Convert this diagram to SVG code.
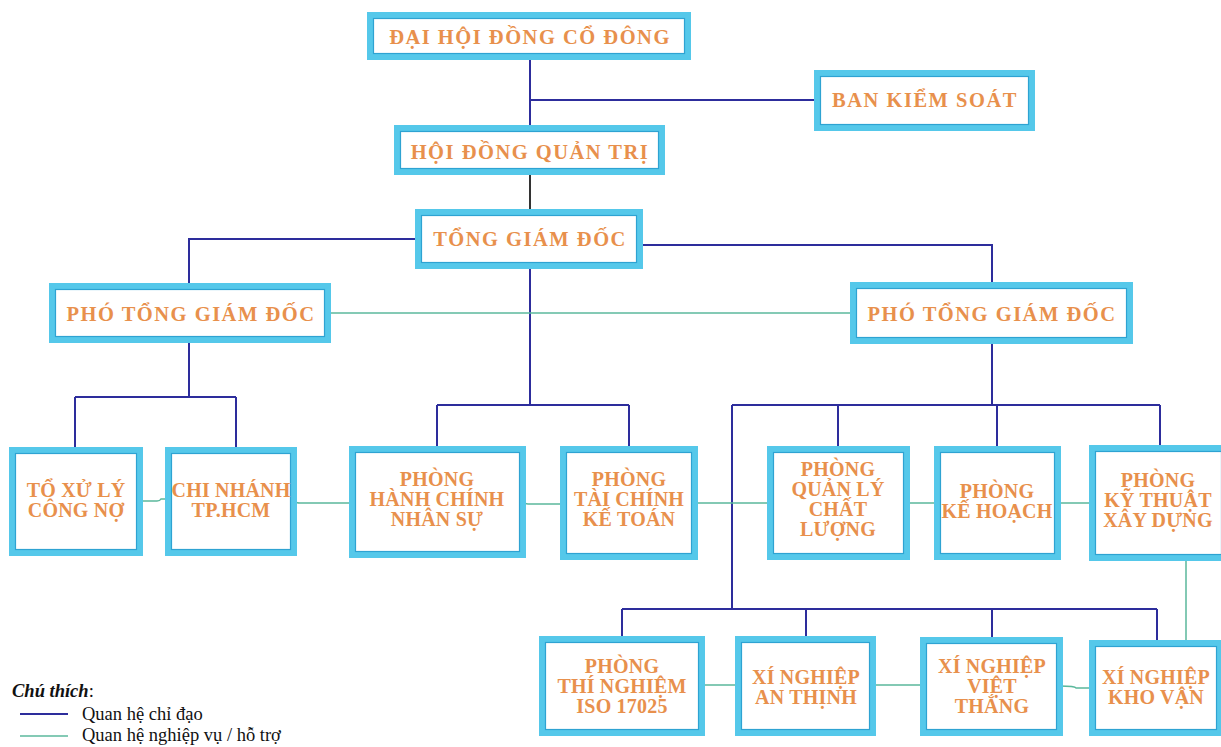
<svg xmlns="http://www.w3.org/2000/svg" width="1221" height="747" viewBox="0 0 1221 747">
<style>
.bo{fill:#fff;stroke:#55c8ea;stroke-width:6}
.bi{fill:none;stroke:#2ea3d2;stroke-width:1.2}
.t1{font-family:"Liberation Serif",serif;font-weight:bold;font-size:20.5px;letter-spacing:1.5px;fill:#e8904c;text-anchor:middle}
.t2{font-family:"Liberation Serif",serif;font-weight:bold;font-size:20px;letter-spacing:0.2px;fill:#e8904c;text-anchor:middle}
.b{fill:none;stroke:#2d2d9c;stroke-width:2}
.k{fill:none;stroke:#333;stroke-width:2}
.g{fill:none;stroke:#5bb89c;stroke-width:1.5}
.lg{font-family:"Liberation Serif",serif;font-size:18.5px;fill:#111}
</style>
<rect width="1221" height="747" fill="#fff"/>
<g id="connectors">
<path class="b" d="M530 57V128M530 100H817"/>
<path class="k" d="M530 172V212"/>
<path class="b" d="M418 239H189V286M640 245H992V285"/>
<path class="b" d="M530 266V405M437 405H629M437 405V449M629 405V449"/>
<path class="b" d="M189 340V397M75 397H236M75 397V450M236 397V450"/>
<path class="b" d="M992 341V405M732 405H1160M838 405V449M997 405V449M1160 405V449M732 405V609M622 609H1157M622 609V639M806 609V639M992 609V640M1157 609V643"/>
<path class="g" d="M328 313H853"/>
<path class="g" d="M140 501H157Q160 501 161 499H168M294 500Q296 503 300 503H352M523 502Q525 504 528 504H563M695 503H770M907 503H937M1058 503H1092"/>
<path class="g" d="M702 685H738M873 685H923M1060 686Q1075 686 1076 688H1092M1186 557V643"/>
</g>
<g id="n-dhdcd"><rect class="bo" x="370" y="15" width="318" height="42"/><rect class="bi" x="373.5" y="18.5" width="311" height="35"/><text class="t1" x="530" y="44">ĐẠI HỘI ĐỒNG CỔ ĐÔNG</text></g>
<g id="n-bks"><rect class="bo" x="817" y="73" width="215" height="55"/><rect class="bi" x="820.5" y="76.5" width="208" height="48"/><text class="t1" x="925" y="107">BAN KIỂM SOÁT</text></g>
<g id="n-hdqt"><rect class="bo" x="397" y="128" width="265" height="44"/><rect class="bi" x="400.5" y="131.5" width="258" height="37"/><text class="t1" x="530" y="159">HỘI ĐỒNG QUẢN TRỊ</text></g>
<g id="n-tgd"><rect class="bo" x="418" y="212" width="222" height="54"/><rect class="bi" x="421.5" y="215.5" width="215" height="47"/><text class="t1" x="530" y="246">TỔNG GIÁM ĐỐC</text></g>
<g id="n-ptgd1"><rect class="bo" x="52" y="286" width="276" height="54"/><rect class="bi" x="55.5" y="289.5" width="269" height="47"/><text class="t1" x="191" y="321">PHÓ TỔNG GIÁM ĐỐC</text></g>
<g id="n-ptgd2"><rect class="bo" x="853" y="285" width="277" height="56"/><rect class="bi" x="856.5" y="288.5" width="270" height="49"/><text class="t1" x="992" y="321">PHÓ TỔNG GIÁM ĐỐC</text></g>
<g id="n-toxuly"><rect class="bo" x="12" y="450" width="128" height="103"/><rect class="bi" x="15.5" y="453.5" width="121" height="96"/><text class="t2" x="76" y="497">TỔ XỬ LÝ</text><text class="t2" x="76" y="517">CÔNG NỢ</text></g>
<g id="n-chinhanh"><rect class="bo" x="168" y="450" width="126" height="103"/><rect class="bi" x="171.5" y="453.5" width="119" height="96"/><text class="t2" x="231" y="497">CHI NHÁNH</text><text class="t2" x="231" y="517">TP.HCM</text></g>
<g id="n-hcns"><rect class="bo" x="352" y="449" width="171" height="106"/><rect class="bi" x="355.5" y="452.5" width="164" height="99"/><text class="t2" x="437" y="486">PHÒNG</text><text class="t2" x="437" y="506">HÀNH CHÍNH</text><text class="t2" x="437" y="526">NHÂN SỰ</text></g>
<g id="n-tckt"><rect class="bo" x="563" y="449" width="132" height="108"/><rect class="bi" x="566.5" y="452.5" width="125" height="101"/><text class="t2" x="629" y="486">PHÒNG</text><text class="t2" x="629" y="506">TÀI CHÍNH</text><text class="t2" x="629" y="526">KẾ TOÁN</text></g>
<g id="n-qlcl"><rect class="bo" x="770" y="449" width="137" height="108"/><rect class="bi" x="773.5" y="452.5" width="130" height="101"/><text class="t2" x="838" y="476">PHÒNG</text><text class="t2" x="838" y="496">QUẢN LÝ</text><text class="t2" x="838" y="516">CHẤT</text><text class="t2" x="838" y="536">LƯỢNG</text></g>
<g id="n-kehoach"><rect class="bo" x="937" y="449" width="121" height="108"/><rect class="bi" x="940.5" y="452.5" width="114" height="101"/><text class="t2" x="997" y="498">PHÒNG</text><text class="t2" x="997" y="518">KẾ HOẠCH</text></g>
<g id="n-ktxd"><rect class="bo" x="1092" y="448" width="133" height="110"/><rect class="bi" x="1095.5" y="451.5" width="126" height="103"/><text class="t2" x="1158" y="487">PHÒNG</text><text class="t2" x="1158" y="507">KỸ THUẬT</text><text class="t2" x="1158" y="527">XÂY DỰNG</text></g>
<g id="n-iso"><rect class="bo" x="542" y="639" width="160" height="94"/><rect class="bi" x="545.5" y="642.5" width="153" height="87"/><text class="t2" x="622" y="673">PHÒNG</text><text class="t2" x="622" y="693">THÍ NGHIỆM</text><text class="t2" x="622" y="713">ISO 17025</text></g>
<g id="n-anthinh"><rect class="bo" x="738" y="639" width="135" height="94"/><rect class="bi" x="741.5" y="642.5" width="128" height="87"/><text class="t2" x="806" y="684">XÍ NGHIỆP</text><text class="t2" x="806" y="704">AN THỊNH</text></g>
<g id="n-vietthang"><rect class="bo" x="923" y="640" width="137" height="93"/><rect class="bi" x="926.5" y="643.5" width="130" height="86"/><text class="t2" x="992" y="673">XÍ NGHIỆP</text><text class="t2" x="992" y="693">VIỆT</text><text class="t2" x="992" y="713">THẮNG</text></g>
<g id="n-khovan"><rect class="bo" x="1092" y="643" width="128" height="90"/><rect class="bi" x="1095.5" y="646.5" width="121" height="83"/><text class="t2" x="1156" y="684">XÍ NGHIỆP</text><text class="t2" x="1156" y="704">KHO VẬN</text></g>
<g id="legend">
<text class="lg" x="12" y="697"><tspan font-weight="bold" font-style="italic">Chú thích</tspan>:</text>
<line x1="20" y1="714" x2="68" y2="714" stroke="#2d2d9c" stroke-width="2"/>
<text class="lg" x="82" y="720">Quan hệ chỉ đạo</text>
<line x1="20" y1="736" x2="68" y2="736" stroke="#5bb89c" stroke-width="1.5"/>
<text class="lg" x="82" y="741">Quan hệ nghiệp vụ / hỗ trợ</text>
</g>
</svg>
